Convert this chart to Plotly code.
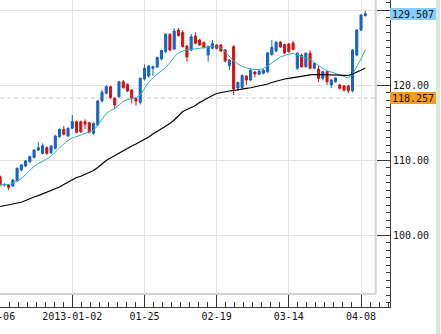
import plotly.graph_objects as go

W, H = 441, 334

# Daily OHLC bars
opens = [107.77, 106.67, 106.67, 106.53, 107.24, 108.67, 109.2, 109.77, 110.36, 111.33,
         110.89, 111.64, 110.97, 111.56, 113.11, 114.09, 113.2, 114.23, 115.11, 115.11,
         115.11, 114.97, 113.56, 114.67, 117.87, 118.89, 119.77, 118.23, 118.44, 120.44,
         120.09, 119.33, 118.23, 117.69, 120.8, 121.2, 122.23, 122.4, 123.47, 124.44,
         126.76, 124.8, 127.33, 127.0, 125.2, 124.67, 126.53, 126.0, 125.67, 124.0,
         124.89, 125.33, 125.33, 124.67, 122.6, 125.11, 119.6, 119.67, 121.2, 120.67,
         121.73, 121.43, 121.56, 121.77, 124.05, 124.53, 125.73, 125.4, 125.47, 125.6,
         122.23, 124.0, 122.44, 124.23, 122.23, 122.13, 120.89, 121.77, 120.0, 120.44,
         120.0, 119.87, 119.87, 119.24, 124.0, 127.33, 129.27]
highs = [107.95, 106.9, 106.8, 107.45, 109.0, 109.45, 110.0, 110.6, 111.45, 112.4,
         112.23, 111.8, 112.0, 113.35, 114.2, 114.53, 114.35, 116.0, 115.25, 115.25,
         115.43, 115.1, 115.0, 118.0, 119.33, 120.0, 119.9, 118.35, 120.53, 120.67,
         120.2, 119.45, 118.35, 121.0, 122.76, 122.7, 122.6, 123.8, 124.75, 126.9,
         126.9, 127.56, 127.6, 127.3, 125.35, 126.8, 127.0, 126.15, 125.8, 125.25,
         126.0, 125.45, 125.45, 124.8, 123.45, 125.3, 120.45, 121.4, 121.3, 122.1,
         121.85, 122.0, 122.1, 124.4, 126.0, 125.87, 125.85, 125.5, 125.6, 125.9,
         124.35, 124.15, 124.35, 124.6, 123.0, 122.6, 121.9, 121.9, 120.8, 121.05,
         120.15, 120.0, 120.0, 124.8, 127.45, 129.45, 129.87]
lows = [106.55, 106.45, 106.0, 106.4, 107.1, 108.5, 109.05, 109.6, 110.2, 111.2,
        110.75, 110.67, 110.8, 111.4, 112.95, 113.3, 113.05, 114.1, 113.55, 113.6,
        114.1, 113.55, 113.33, 114.5, 117.7, 118.75, 118.15, 116.76, 118.3, 119.5,
        119.05, 117.56, 117.24, 117.4, 120.6, 121.0, 121.2, 122.25, 123.3, 124.3,
        124.5, 124.65, 126.45, 125.0, 123.1, 124.5, 125.4, 125.2, 124.85, 123.1,
        124.75, 124.75, 124.4, 123.05, 122.0, 118.67, 119.2, 119.5, 120.0, 120.5,
        121.0, 121.3, 121.4, 121.6, 123.9, 124.4, 124.95, 124.1, 124.3, 124.6,
        122.0, 122.3, 122.3, 122.1, 122.1, 120.4, 120.6, 120.0, 119.6, 120.3,
        119.4, 119.1, 118.9, 119.0, 123.85, 127.2, 129.1]
closes = [106.67, 106.70, 106.36, 107.33, 108.89, 109.33, 109.87, 110.44, 111.33, 111.64,
          111.91, 110.89, 111.87, 113.2, 114.09, 113.43, 114.23, 115.11, 113.69, 113.77,
          114.8, 113.69, 114.89, 117.87, 119.03, 119.77, 118.31, 117.33, 120.44, 119.64,
          119.2, 118.23, 117.87, 120.89, 122.23, 122.53, 122.44, 123.67, 124.6, 126.76,
          124.67, 127.2, 126.6, 125.13, 123.73, 126.44, 125.56, 125.33, 125.0, 125.13,
          125.53, 124.89, 124.53, 123.2, 123.33, 119.47, 120.33, 121.27, 120.67, 121.96,
          121.47, 121.87, 122.0, 124.29, 125.0, 125.69, 125.07, 124.27, 124.44, 124.76,
          124.23, 122.44, 124.23, 122.23, 122.89, 120.89, 121.77, 120.44, 120.67, 120.93,
          119.56, 119.33, 119.24, 124.67, 127.33, 129.33, 129.507]

# Moving averages (short and long)
ma_short = [106.67, 106.67, 106.73, 106.89, 107.2, 107.53, 108.07, 108.67, 109.13, 109.53,
            109.8, 110.13, 110.53, 111.13, 111.6, 112.13, 112.6, 112.93, 113.13, 113.29,
            113.47, 113.65, 113.93, 114.67, 115.47, 116.2, 116.6, 116.87, 117.33, 117.8,
            118.07, 118.23, 118.29, 118.67, 119.6, 120.4, 120.93, 121.47, 121.87, 122.33,
            123.0, 123.73, 124.27, 124.53, 124.67, 124.76, 124.87, 124.93, 125.0, 125.07,
            125.13, 125.07, 124.93, 124.47, 123.87, 123.2, 122.8, 122.47, 122.27, 122.13,
            122.07, 122.07, 122.2, 122.53, 122.93, 123.4, 123.73, 123.93, 124.13, 124.2,
            124.0, 123.8, 123.6, 123.4, 123.0, 122.6, 122.2, 121.93, 121.73, 121.53,
            121.27, 121.07, 120.93, 121.47, 122.4, 123.47, 124.67]
ma_long = [103.8, 103.93, 104.03, 104.13, 104.23, 104.37, 104.6, 104.87, 105.07, 105.25,
           105.47, 105.69, 105.93, 106.17, 106.4, 106.73, 107.07, 107.4, 107.67, 107.83,
           108.07, 108.33, 108.6, 109.0, 109.47, 109.93, 110.27, 110.6, 110.93, 111.27,
           111.6, 111.87, 112.13, 112.44, 112.73, 113.07, 113.47, 113.8, 114.13, 114.47,
           114.87, 115.33, 115.93, 116.47, 116.73, 117.0, 117.27, 117.67, 118.0, 118.33,
           118.6, 118.87, 119.0, 119.11, 119.2, 119.27, 119.4, 119.49, 119.56, 119.63,
           119.73, 119.84, 119.96, 120.13, 120.33, 120.51, 120.67, 120.8, 120.89, 121.0,
           121.09, 121.2, 121.29, 121.36, 121.4, 121.4, 121.4, 121.37, 121.36, 121.33,
           121.31, 121.27, 121.27, 121.47, 121.73, 121.93, 122.23]

tick_labels = ["12-06", "2013-01-02", "01-25", "02-19", "03-14", "04-08"]
label_every = 17
ref_level = 118.257
price_ticks = [100, 110, 120, 130]
price_tick_text = ["100.00", "110.00", "120.00", ""]

n = len(closes)
bars = list(range(n))
tick_bars = [i * label_every for i in range(len(tick_labels))]
last_close = closes[-1]

# Geometry (pixels): plotting frame and the offset axis box
frame_right, frame_bottom = 375.7, 294
axis_right, axis_bottom = 390, 307
bar_px, first_bar_px = 4.246, 0.1
unit_px, top_value = 7.5, 131.333

def x_range(right_px):
    return [-first_bar_px / bar_px, (right_px - first_bar_px) / bar_px]

def y_range(bottom_px):
    return [top_value - bottom_px / unit_px, top_value]

BLUE = "#1763C0"
RED = "#CC1515"
AXIS = "#3a3a3a"
GRID = "#e2e2e2"
FONT = dict(family="DejaVu Sans Mono", size=10, color="#111111")

fig = go.Figure()
fig.add_trace(go.Candlestick(
    x=bars, open=opens, high=highs, low=lows, close=closes,
    increasing=dict(line=dict(color=BLUE, width=1), fillcolor=BLUE),
    decreasing=dict(line=dict(color=RED, width=1), fillcolor=RED),
    whiskerwidth=0, showlegend=False, hoverinfo="skip",
))
fig.add_trace(go.Scatter(x=bars, y=ma_short, mode="lines",
                         line=dict(color="#2fb0b8", width=1), showlegend=False))
fig.add_trace(go.Scatter(x=bars, y=ma_long, mode="lines",
                         line=dict(color="#000000", width=1.2), showlegend=False))
# empty trace that carries the offset tick axes
fig.add_trace(go.Scatter(x=[], y=[], xaxis="x2", yaxis="y2", showlegend=False))

fig.update_layout(
    width=W, height=H, margin=dict(l=0, r=0, t=0, b=0),
    paper_bgcolor="white", plot_bgcolor="rgba(0,0,0,0)",
    showlegend=False,
    xaxis=dict(domain=[0, frame_right / W], range=x_range(frame_right),
               tickmode="array", tickvals=tick_bars[1:], showticklabels=False,
               ticks="", showgrid=True, gridcolor=GRID, gridwidth=1,
               zeroline=False, showline=False, rangeslider=dict(visible=False),
               fixedrange=True),
    yaxis=dict(domain=[1 - frame_bottom / H, 1], range=y_range(frame_bottom),
               tickmode="linear", tick0=0, dtick=10, showticklabels=False,
               ticks="", showgrid=True, gridcolor=GRID, gridwidth=1,
               zeroline=False, showline=False, fixedrange=True),
    xaxis2=dict(domain=[0, axis_right / W], range=x_range(axis_right), anchor="y2",
                tickmode="array", tickvals=tick_bars, ticktext=tick_labels,
                ticks="inside", ticklen=12, tickwidth=1, tickcolor=AXIS,
                showline=True, linecolor=AXIS, linewidth=1, showgrid=False,
                zeroline=False, tickfont=FONT, automargin=False, fixedrange=True,
                ticklabeloverflow="allow",
                minor=dict(tickmode="linear", tick0=0, dtick=label_every / 8,
                           ticks="inside", ticklen=5, tickwidth=1,
                           tickcolor=AXIS, showgrid=False)),
    yaxis2=dict(domain=[1 - axis_bottom / H, 1], range=y_range(axis_bottom),
                anchor="x2", side="right",
                tickmode="array", tickvals=price_ticks, ticktext=price_tick_text,
                ticks="inside", ticklen=13, tickwidth=1, tickcolor=AXIS,
                showline=True, linecolor=AXIS, linewidth=1, showgrid=False,
                zeroline=False, tickfont=FONT, automargin=False, fixedrange=True,
                minor=dict(tickmode="linear", tick0=0, dtick=1,
                           ticks="inside", ticklen=4, tickwidth=1,
                           tickcolor=AXIS, showgrid=False)),
)

shapes = [
    # reference level
    dict(type="line", xref="paper", yref="y", x0=0, x1=frame_right / W,
         y0=ref_level, y1=ref_level, layer="below",
         line=dict(color="#c9c9c9", width=1, dash="4px,3px")),
    # frame bottom and right edges
    dict(type="line", xref="paper", yref="paper", x0=0, x1=frame_right / W,
         y0=1 - frame_bottom / H, y1=1 - frame_bottom / H,
         line=dict(color="#d2d2d2", width=2)),
    dict(type="line", xref="paper", yref="paper", x0=frame_right / W,
         x1=frame_right / W, y0=1 - frame_bottom / H, y1=1,
         line=dict(color="#d2d2d2", width=2)),
    # side strip
    dict(type="rect", xref="paper", yref="paper", x0=436 / W, x1=440 / W,
         y0=0, y1=1, fillcolor="#d4ecd4", line=dict(width=0), layer="below"),
]
fig.update_layout(shapes=shapes)

fig.add_annotation(xref="paper", yref="y2", x=axis_right / W, y=last_close,
                   xanchor="left", yanchor="middle", text=f"{last_close:.3f}",
                   showarrow=False, bgcolor="#87CEFA", font=FONT,
                   width=46, height=12, borderpad=0, borderwidth=0)
fig.add_annotation(xref="paper", yref="y2", x=axis_right / W, y=ref_level,
                   xanchor="left", yanchor="middle", text=f"{ref_level:.3f}",
                   showarrow=False, bgcolor="#F99B1C", font=FONT,
                   width=46, height=12, borderpad=0, borderwidth=0)

fig.write_html("out.html")
